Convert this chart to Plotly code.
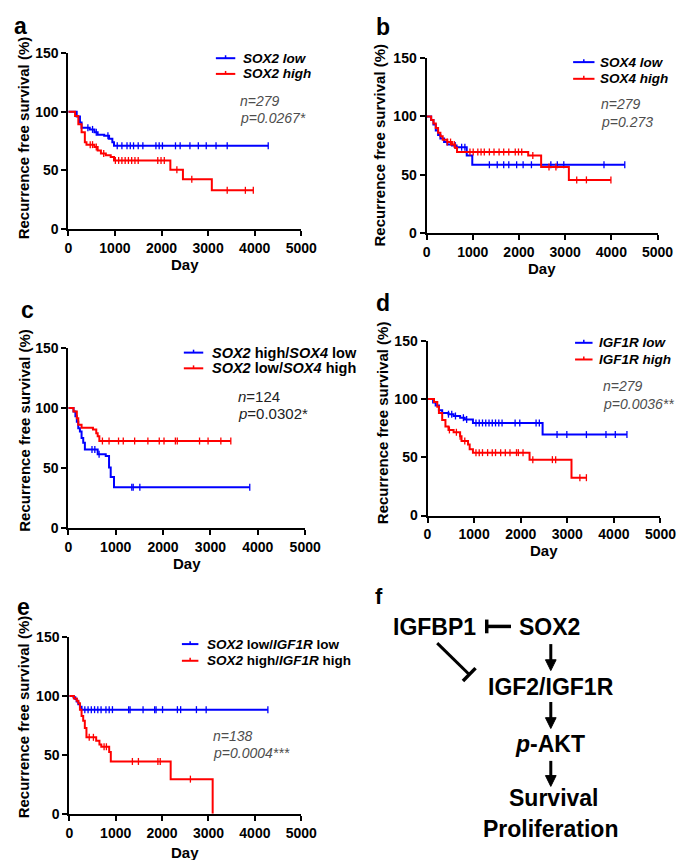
import numpy as np
import plotly.graph_objects as go

W, H = 685, 860
FONT = "Liberation Sans, Arial, sans-serif"
BLUE = "#0000ff"
RED = "#ff0000"

# ---------------- data ----------------
# Panel a: SOX2
A_LOW_T = [0, 180, 250, 285, 460, 560, 630, 770, 875, 945, 980]
A_LOW_S = [100, 96, 91, 86.5, 85, 82.5, 80.5, 79.5, 77, 74, 71]
A_LOW_END = 4290
A_LOW_C = [420, 520, 600, 850, 1050, 1150, 1260, 1330, 1400, 1500, 1600, 1880, 1950,
           2020, 2300, 2400, 2610, 2790, 2960, 3170, 3410, 4290]
A_HIGH_T = [0, 145, 215, 285, 355, 390, 560, 630, 700, 805, 910, 980, 2190, 2460, 3080]
A_HIGH_S = [100, 96.5, 89.5, 82.5, 74, 72, 70, 67, 64.5, 63, 61.5, 58.5, 50.5, 42.5, 33]
A_HIGH_END = 3970
A_HIGH_C = [470, 520, 600, 760, 1010, 1080, 1150, 1220, 1290, 1360, 1430, 1500, 1920,
            1990, 2060, 2330, 2650, 3410, 3800, 3970]

# Panel b: SOX4
B_LOW_T = [0, 100, 150, 200, 250, 300, 380, 450, 550, 650, 870, 990]
B_LOW_S = [100, 97, 93, 88, 84, 81, 78, 76, 75, 73.5, 66.5, 58.5]
B_LOW_END = 4290
B_LOW_C = [620, 760, 830, 1360, 1530, 1670, 1780, 1950, 2090, 2270, 2690, 2830, 2970, 3840, 4290]
B_HIGH_T = [0, 100, 150, 200, 250, 300, 350, 450, 550, 620, 660, 2200, 2480, 3080]
B_HIGH_S = [100, 97, 94, 90, 86, 83, 80, 78, 76, 73, 69.5, 66.5, 56.5, 45.5]
B_HIGH_END = 3990
B_HIGH_C = [450, 520, 600, 940, 1010, 1110, 1180, 1250, 1360, 1460, 1570, 1670, 1780, 1920,
            1990, 2060, 2300, 2650, 2800, 3250, 3460, 3990]

# Panel c: SOX2 high/SOX4 low (blue) vs SOX2 low/SOX4 high (red)
C_BLUE_T = [0, 110, 150, 180, 210, 245, 280, 315, 350, 620, 790, 860, 895, 965]
C_BLUE_S = [100, 97, 93, 88.5, 83, 80.5, 75, 71, 65.5, 61.5, 60, 50.5, 42.5, 34]
C_BLUE_END = 3830
C_BLUE_C = [500, 560, 650, 1340, 1370, 1510, 3830]
C_RED_T = [0, 110, 180, 210, 280, 520, 590, 620, 655]
C_RED_S = [100, 97, 91.5, 86, 83.5, 82, 79, 76.5, 72.5]
C_RED_END = 3430
C_RED_C = [720, 860, 1060, 1160, 1400, 1680, 1920, 2020, 2260, 2300, 2770, 2950, 3220, 3430]

# Panel d: IGF1R
D_LOW_T = [0, 120, 175, 245, 315, 450, 560, 700, 800, 975, 2470]
D_LOW_S = [100, 97, 94.5, 90.5, 88, 87, 85.5, 84, 82.5, 79.5, 69.5]
D_LOW_END = 4280
D_LOW_C = [450, 520, 600, 770, 840, 1040, 1110, 1180, 1250, 1320, 1390, 1460, 1530, 1600,
           1880, 1980, 2330, 2400, 2780, 2990, 3410, 3830, 4030, 4280]
D_HIGH_T = [0, 140, 210, 245, 315, 385, 450, 560, 700, 730, 870, 905, 975, 2190, 3090]
D_HIGH_S = [100, 97.5, 93.5, 88, 82, 76.5, 73.5, 71.5, 68, 64, 61, 57, 54, 48, 32.5]
D_HIGH_END = 3410
D_HIGH_C = [470, 620, 700, 800, 1040, 1110, 1180, 1290, 1390, 1460, 1570, 1670, 1770, 1910,
            1950, 2050, 2260, 2680, 2750, 3270, 3410]

# Panel e: SOX2 low/IGF1R low (blue) vs SOX2 high/IGF1R high (red)
E_LOW_T = [0, 90, 130, 160, 195, 230, 265]
E_LOW_S = [100, 99, 97.5, 95.5, 93, 91, 88.5]
E_LOW_END = 4280
E_LOW_C = [335, 405, 475, 545, 615, 685, 790, 860, 930, 1280, 1310, 1590, 1840, 1870, 2010,
           2330, 2400, 2740, 2950, 4280]
E_HIGH_T = [0, 100, 160, 195, 230, 265, 300, 335, 370, 580, 650, 690, 860, 895, 2185, 3090]
E_HIGH_S = [100, 98, 96, 94, 88.5, 83, 79, 73, 65, 62, 59, 57, 52.5, 44.5, 29.5, 0]
E_HIGH_END = 3090
E_HIGH_C = [430, 520, 750, 800, 1360, 1490, 1910, 1960, 2610]

X_TICKS = [0, 1000, 2000, 3000, 4000, 5000]
Y_TICKS = [0, 50, 100, 150]

# ---------------- layout geometry (pixels) ----------------
PANELS = {
    # name: (x0, x1, ytop, ybottom)
    "a": (58, 298, 38, 217),
    "b": (427, 665, 43, 221),
    "c": (58, 302, 338, 522),
    "d": (428, 668, 331, 509),
    "e": (59, 298, 633, 813),
}


def px(x):
    return x / W


def py(y):
    return 1 - y / H


fig = go.Figure()
layout = dict(
    width=W, height=H, margin=dict(l=0, r=0, t=0, b=0),
    paper_bgcolor="white", plot_bgcolor="white", showlegend=False,
)

axis_font = dict(family=FONT, size=14, color="black", weight="bold")
for i, (name, (x0, x1, yt, yb)) in enumerate(PANELS.items(), start=1):
    sx = "" if i == 1 else str(i)
    layout["xaxis" + sx] = dict(
        domain=[px(x0), px(x1)], anchor="y" + sx, range=[0, 5000],
        tickvals=X_TICKS, ticks="outside", ticklen=5, tickwidth=2, tickcolor="black",
        showline=True, linecolor="black", linewidth=2, showgrid=False, zeroline=False,
        tickfont=axis_font, fixedrange=True,
    )
    layout["yaxis" + sx] = dict(
        domain=[py(yb), py(yt)], anchor="x" + sx, range=[0, 150],
        tickvals=Y_TICKS, ticks="outside", ticklen=5, tickwidth=2, tickcolor="black",
        showline=True, linecolor="black", linewidth=2, showgrid=False, zeroline=False,
        tickfont=axis_font, fixedrange=True,
    )


def add_km(idx, t, s, end, cens, color):
    sx = "" if idx == 1 else str(idx)
    xs = list(t) + [end]
    ys = list(s) + [s[-1]]
    fig.add_trace(go.Scatter(x=xs, y=ys, mode="lines", line=dict(color=color, width=2, shape="hv"),
                             xaxis="x" + sx, yaxis="y" + sx, cliponaxis=False, hoverinfo="skip"))
    tt = np.array(t)
    ss = np.array(s)
    ci = np.searchsorted(tt, np.array(cens), side="right") - 1
    cy = ss[ci]
    fig.add_trace(go.Scatter(x=cens, y=cy, mode="markers",
                             marker=dict(symbol="line-ns", size=5, line=dict(color=color, width=1.3)),
                             xaxis="x" + sx, yaxis="y" + sx, cliponaxis=False, hoverinfo="skip"))


add_km(1, A_LOW_T, A_LOW_S, A_LOW_END, A_LOW_C, BLUE)
add_km(1, A_HIGH_T, A_HIGH_S, A_HIGH_END, A_HIGH_C, RED)
add_km(2, B_LOW_T, B_LOW_S, B_LOW_END, B_LOW_C, BLUE)
add_km(2, B_HIGH_T, B_HIGH_S, B_HIGH_END, B_HIGH_C, RED)
add_km(3, C_BLUE_T, C_BLUE_S, C_BLUE_END, C_BLUE_C, BLUE)
add_km(3, C_RED_T, C_RED_S, C_RED_END, C_RED_C, RED)
add_km(4, D_LOW_T, D_LOW_S, D_LOW_END, D_LOW_C, BLUE)
add_km(4, D_HIGH_T, D_HIGH_S, D_HIGH_END, D_HIGH_C, RED)
add_km(5, E_LOW_T, E_LOW_S, E_LOW_END, E_LOW_C, BLUE)
add_km(5, E_HIGH_T, E_HIGH_S, E_HIGH_END, E_HIGH_C, RED)

annotations = []
shapes = []


def text(x, y, s, size=13, color="black", xanchor="center", yanchor="middle", angle=0, weight="normal"):
    annotations.append(dict(x=px(x), y=py(y), xref="paper", yref="paper", text=s, showarrow=False,
                            xanchor=xanchor, yanchor=yanchor, textangle=angle,
                            font=dict(family=FONT, size=size, color=color, weight=weight)))


def seg(x0, y0, x1, y1, color="black", width=2):
    shapes.append(dict(type="line", xref="paper", yref="paper", x0=px(x0), y0=py(y0), x1=px(x1), y1=py(y1),
                       line=dict(color=color, width=width)))


# panel letters
text(9, 10, "a", 23, weight="bold")
text(382, 11, "b", 23, weight="bold")
text(16, 300, "c", 23, weight="bold")
text(382, 292, "d", 23, weight="bold")
text(12, 602, "e", 23, weight="bold")
text(378, 591, "f", 22, weight="bold")

# axis titles
YT = "Recurrence free survival (%)"
text(12, 124, YT, 15, angle=-90, weight="bold")
text(379, 131, YT, 15, angle=-90, weight="bold")
text(12, 422, YT, 15, angle=-90, weight="bold")
text(381, 414, YT, 15, angle=-90, weight="bold")
text(12, 714, YT, 15, angle=-90, weight="bold")
text(178, 253, "Day", 15, weight="bold")
text(546, 257, "Day", 15, weight="bold")
text(180, 558, "Day", 15, weight="bold")
text(548, 545, "Day", 15, weight="bold")
text(178, 852, "Day", 15, weight="bold")


def legend(x0, x1, ytop, ybot, tx, lab1, lab2, size=13.5):
    for y, c, lab in ((ytop, BLUE, lab1), (ybot, RED, lab2)):
        seg(x0, y, x1, y, c, 2)
        m = (x0 + x1) / 2
        seg(m, y, m, y - 3, c, 1.5)
        text(tx, y, lab, size, xanchor="left", weight="bold")


legend(210, 230, 43, 59, 236, "<i>SOX2 low</i>", "<i>SOX2 high</i>")
legend(578, 600, 47, 64, 604, "<i>SOX4 low</i>", "<i>SOX4 high</i>")
legend(177, 197, 343, 359, 204, "<i>SOX2</i> high/<i>SOX4</i> low", "<i>SOX2</i> low/<i>SOX4</i> high", 14.5)
legend(580, 598, 333, 350, 603, "<i>IGF1R low</i>", "<i>IGF1R high</i>")
legend(175, 192, 640, 657, 199, "<i>SOX2</i> low/<i>IGF1R</i> low", "<i>SOX2</i> high/<i>IGF1R</i> high")

GRAY = "#4d4d4d"
text(233, 87, "<i>n=279</i>", 14, GRAY, xanchor="left")
text(233, 104, "<i>p=0.0267*</i>", 14, GRAY, xanchor="left")
text(605, 90, "<i>n=279</i>", 14, GRAY, xanchor="left")
text(605, 108, "<i>p=0.273</i>", 14, GRAY, xanchor="left")
text(231, 388, "<i>n</i>=124", 15, "#222222", xanchor="left")
text(231, 405, "<i>p</i>=0.0302*", 15, "#222222", xanchor="left")
text(607, 377, "<i>n=279</i>", 14, GRAY, xanchor="left")
text(607, 395, "<i>p=0.0036**</i>", 14, GRAY, xanchor="left")
text(205, 734, "<i>n=138</i>", 14, GRAY, xanchor="left")
text(205, 751, "<i>p=0.0004***</i>", 14, GRAY, xanchor="left")

# ---------------- panel f: pathway diagram ----------------
DF = 23
text(435, 623, "IGFBP1", DF, weight="bold")
text(554, 623, "SOX2", DF, weight="bold")
text(555, 684, "IGF2/IGF1R", DF, weight="bold")
text(554, 742, "<i>p</i>-AKT", DF, weight="bold")
text(558, 797, "Survival", DF, weight="bold")
text(555, 828, "Proliferation", DF, weight="bold")

# inhibition IGFBP1 -| SOX2 (bar at IGFBP1)
seg(489, 622, 514, 622, "black", 3.5)
seg(489, 615, 489, 629, "black", 3.5)
# inhibition IGFBP1 -| IGF2/IGF1R (diagonal)
seg(438, 639, 471, 671, "black", 3)
seg(464.5, 677.5, 477.5, 664.5, "black", 3.5)


def arrow(x, y0, y1):
    seg(x, y0, x, y1 - 9, "black", 3)
    shapes.append(dict(type="path", xref="paper", yref="paper",
                       path=f"M {px(x - 5.5)},{py(y1 - 11)} L {px(x + 5.5)},{py(y1 - 11)} L {px(x)},{py(y1)} Z",
                       fillcolor="black", line=dict(color="black", width=1)))


arrow(555, 640, 667)
arrow(555, 699, 726)
arrow(555, 759, 785)

layout["annotations"] = annotations
layout["shapes"] = shapes
fig.update_layout(**layout)
fig.write_html("out.html")
